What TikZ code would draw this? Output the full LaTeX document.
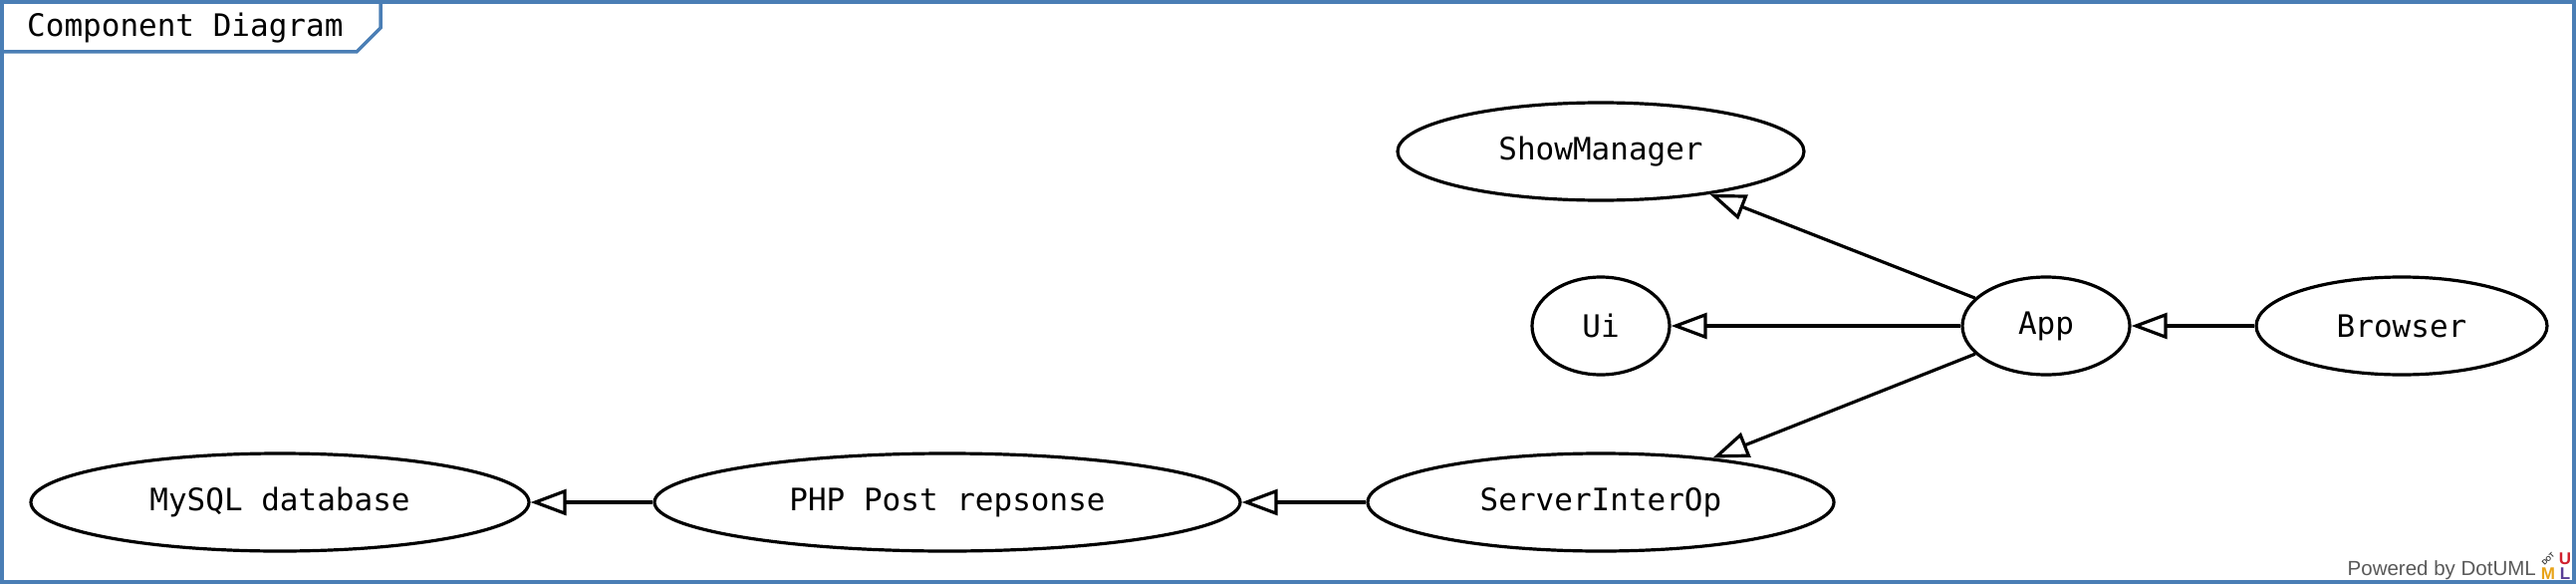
\documentclass[tikz,border=0pt]{standalone}
\usepackage{fontspec}
\setmonofont{DejaVu Sans Mono}
\newfontfamily\logofont{Liberation Sans}
\usetikzlibrary{shapes.geometric,arrows.meta}
\definecolor{frameblue}{HTML}{4A7EB5}
\definecolor{logored}{HTML}{D0202E}
\definecolor{logoorange}{HTML}{E8A317}
\definecolor{logopurple}{HTML}{5A3E96}
\tikzset{
  comp/.style={draw=black, line width=3.2pt, ellipse, inner sep=0pt, minimum height=98pt,
    font=\ttfamily\fontsize{31}{37}\selectfont},
  gen/.style={draw=black, line width=3.2pt, -{Triangle[open, length=36pt, width=26pt, line width=3.2pt]}},
}
\begin{document}
\begin{tikzpicture}[x=1pt,y=-1pt]
\useasboundingbox (0,0) rectangle (2586,586);
\fill[white] (0,0) rectangle (2586,586);
% frame
\draw[frameblue, line width=3.5pt] (2,2) rectangle (2584,584);
\draw[frameblue, line width=3.5pt] (2,52) -- (358,52) -- (382,28) -- (382,2);
\node[anchor=west, font=\ttfamily\fontsize{31}{37}\selectfont, inner sep=0pt] (title) at (27,28) {Component Diagram};
% components
\node[comp, minimum width=408pt] (ShowManager) at (1607,152) {ShowManager};
\node[comp, minimum width=138pt] (Ui) at (1607,327) {Ui};
\node[comp, minimum width=168pt] (App) at (2054,327) {App};
\node[comp, minimum width=292pt] (Browser) at (2411,327) {Browser};
\node[comp, minimum width=468pt] (ServerInterOp) at (1607,504) {ServerInterOp};
\node[comp, minimum width=588pt] (PHP) at (951,504) {PHP Post repsonse};
\node[comp, minimum width=500pt] (MySQL) at (281,504) {MySQL database};
% connectors
\draw[gen] (App) -- (ShowManager);
\draw[gen] (App) -- (Ui);
\draw[gen] (Browser) -- (App);
\draw[gen] (App) -- (ServerInterOp);
\draw[gen] (ServerInterOp) -- (PHP);
\draw[gen] (PHP) -- (MySQL);
% powered by
\node[anchor=east, inner sep=0pt, text=black!65, font=\logofont\fontsize{20.5}{23}\selectfont] (powered) at (2546,572) {Powered by DotUML};
\node[inner sep=0pt, text=logored, font=\logofont\bfseries\fontsize{17}{17}\selectfont] (lu) at (2575,561) {U};
\node[inner sep=0pt, text=logoorange, font=\logofont\bfseries\fontsize{17}{17}\selectfont] (lm) at (2558,576) {M};
\node[inner sep=0pt, text=logopurple, font=\logofont\bfseries\fontsize{17}{17}\selectfont] (ll) at (2575,576) {L};
\node[inner sep=0pt, rotate=45, text=black!80, font=\logofont\bfseries\fontsize{7}{7}\selectfont] (ldot) at (2558,561) {DOT};
\end{tikzpicture}
\end{document}
